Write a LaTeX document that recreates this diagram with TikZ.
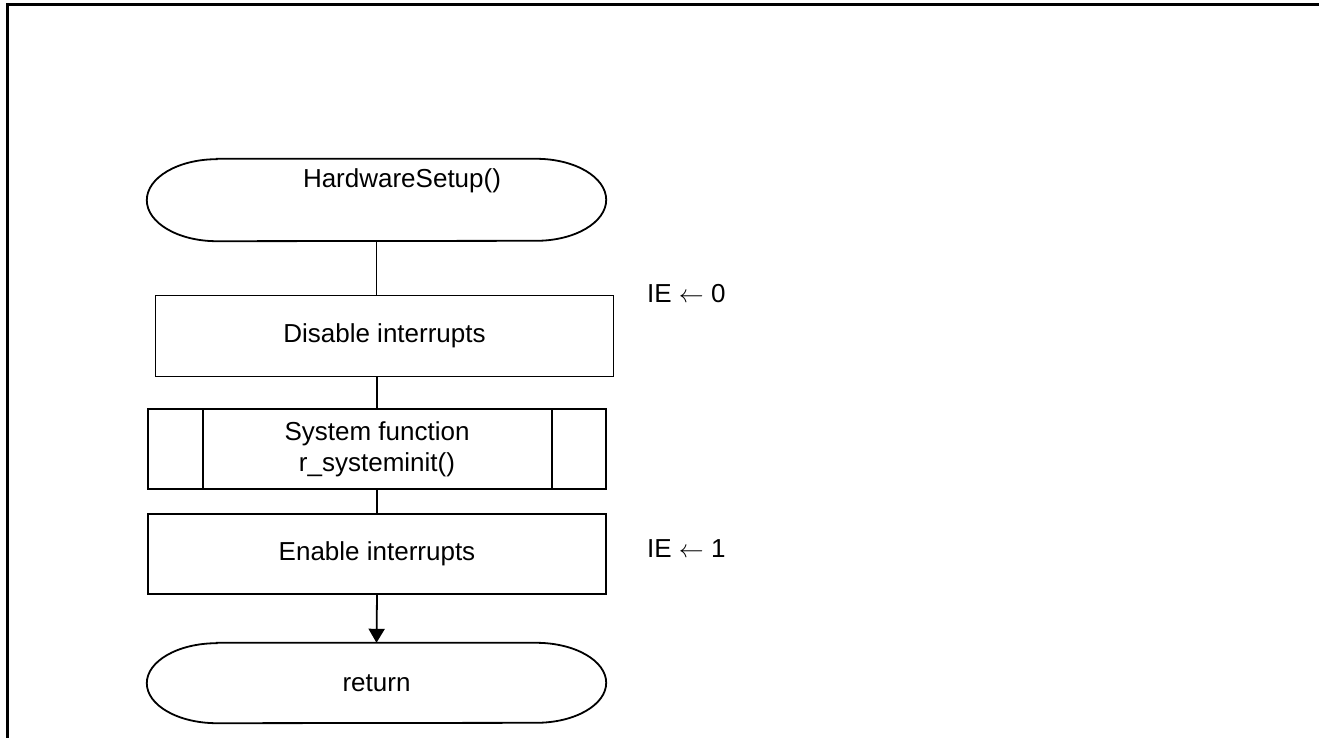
\documentclass[tikz,border=0pt]{standalone}
\usepackage{fontspec}
\setmainfont{Liberation Sans}
\usetikzlibrary{arrows.meta}

\tikzset{
  line/.style={line width=1.8pt},
  txt/.style={font=\fontsize{26}{31}\selectfont, inner sep=0pt, align=center},
  procbox/.style={draw, line width=1.8pt, minimum width=458pt, minimum height=81pt, inner sep=0pt, txt},
  termarea/.style={minimum width=459pt, minimum height=82pt, inner sep=0pt},
  flowarrow/.style={line, -{Triangle[length=14pt, width=16pt]}},
  note/.style={font=\fontsize{26}{31}\selectfont, inner sep=0pt, anchor=west},
}

% terminal symbol: straight top and bottom, half-elliptic ends
\newcommand{\terminal}[2]{%
  \draw[line] ([xshift=70pt]#1.north west) -- ([xshift=-70pt]#1.north east)
    arc[start angle=90, end angle=-90, x radius=70pt, y radius=#2]
    -- ([xshift=70pt]#1.south west)
    arc[start angle=270, end angle=90, x radius=70pt, y radius=#2]
    -- cycle;}

\begin{document}
\begin{tikzpicture}[x=1pt, y=-1pt]
  \useasboundingbox (0,0) rectangle (1319,738);

  % page frame
  \draw[line width=3pt] (1319,5) -- (7,5) -- (7,738);

  % start terminal
  \node[termarea] (start) at (376.5,200) {};
  \terminal{start}{41pt}
  \node[txt] (starttext) at (402,181) {HardwareSetup()};

  % disable interrupts
  \node[procbox] (dis) at (384.5,336) {Disable interrupts};
  \node[note] (ie0) at (647,294) {IE $\leftarrow$ 0};

  % predefined process
  \node[procbox, minimum height=80pt] (sub) at (377,449) {System function\\r\_systeminit()};
  \draw[line] ([xshift=56pt]sub.north west) -- ([xshift=56pt]sub.south west);
  \draw[line] ([xshift=-55pt]sub.north east) -- ([xshift=-55pt]sub.south east);

  % enable interrupts
  \node[procbox, minimum height=80pt] (en) at (377,554) {Enable interrupts};
  \node[note] (ie1) at (647,549) {IE $\leftarrow$ 1};

  % return terminal
  \node[termarea, minimum height=80pt, txt] (ret) at (376.5,683) {return};
  \terminal{ret}{40pt}

  % connectors
  \draw[line] (start.south) -- (start.south |- dis.north);
  \draw[line] (dis.south -| sub.north) -- (sub.north);
  \draw[line] (sub.south) -- (en.north);
  \draw[flowarrow] (en.south) -- (ret.north);
\end{tikzpicture}
\end{document}
